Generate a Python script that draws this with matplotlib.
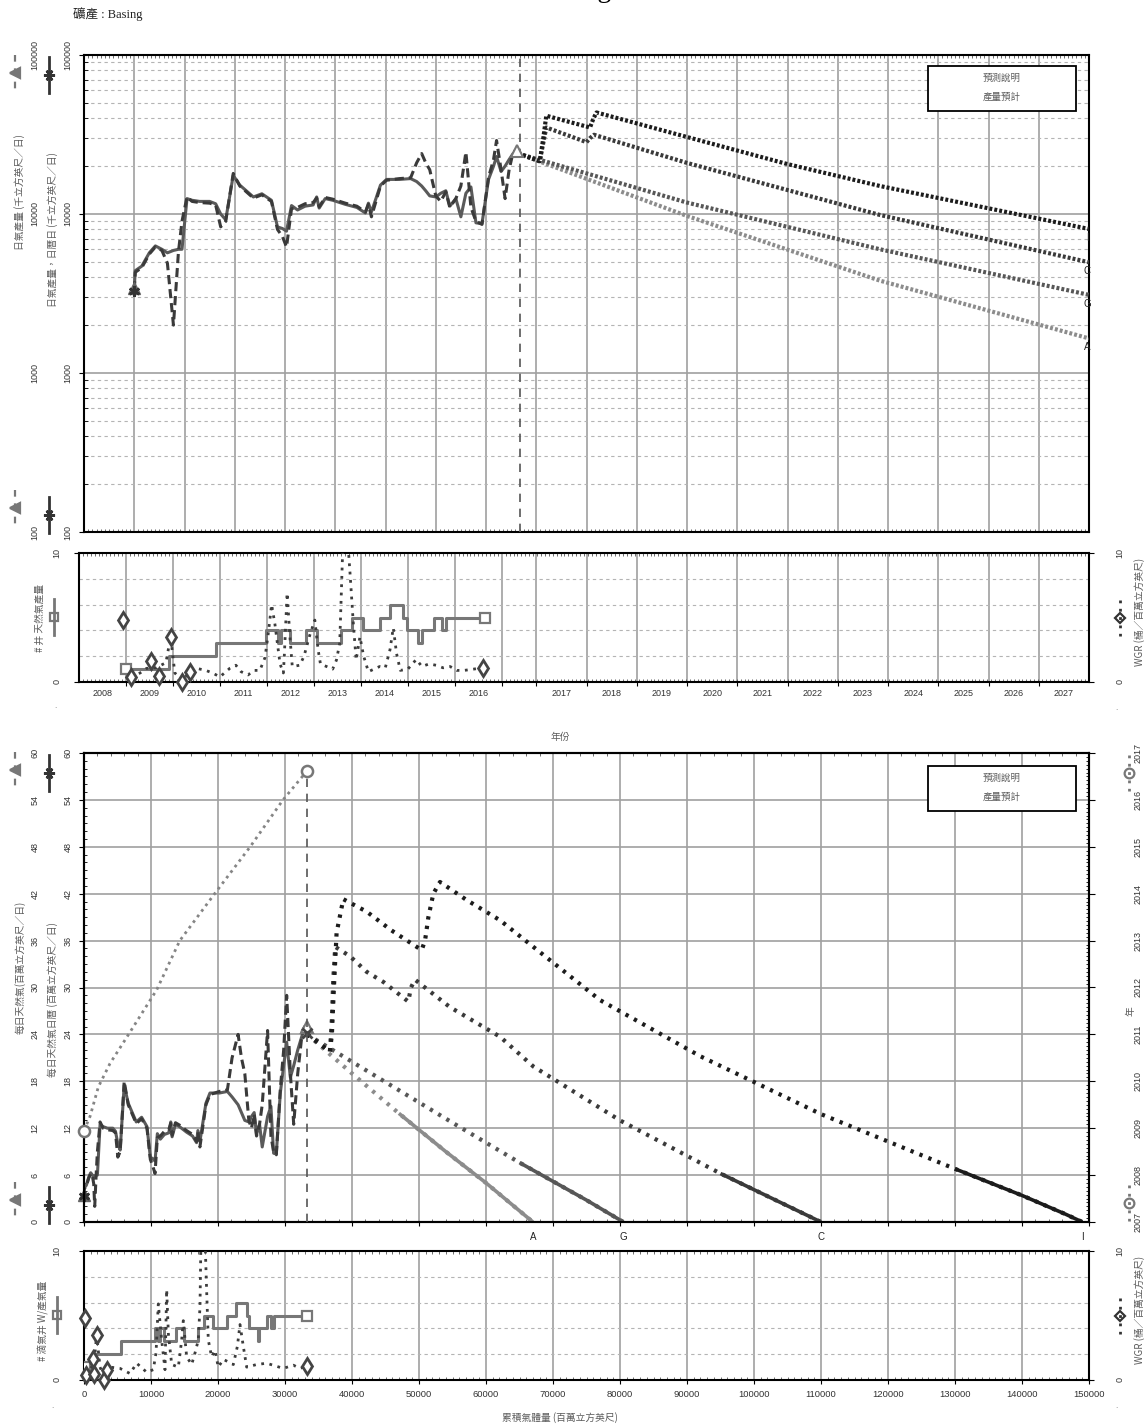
import matplotlib
matplotlib.use("Agg")
import matplotlib.pyplot as plt
import numpy as np
from matplotlib.lines import Line2D
from matplotlib.patches import Rectangle
from matplotlib.ticker import LogLocator, MultipleLocator, NullFormatter, FixedLocator

plt.rcParams["font.family"] = ["Liberation Sans", "Noto Sans CJK TC"]

W, H = 1145, 1426

# ---------------- production history ----------------
hist_year = [2009.00, 2009.02, 2009.15, 2009.30, 2009.42, 2009.55, 2009.66, 2009.78, 2009.88, 2009.95,
             2010.05, 2010.15, 2010.30, 2010.50, 2010.62, 2010.72, 2010.82, 2010.97, 2011.10, 2011.37,
             2011.54, 2011.73, 2011.85, 2011.95, 2012.03, 2012.13, 2012.25, 2012.40, 2012.56, 2012.63,
             2012.68, 2012.80, 2012.95, 2013.20, 2013.43, 2013.60, 2013.66, 2013.72, 2013.90, 2014.02,
             2014.28, 2014.50, 2014.62, 2014.72, 2014.80, 2014.88, 2015.00, 2015.10, 2015.20, 2015.28,
             2015.40, 2015.50, 2015.60, 2015.70, 2015.80, 2015.92, 2016.05, 2016.15, 2016.21, 2016.30,
             2016.38, 2016.46, 2016.54, 2016.62]
# Mcf/d
rate_daily = [3400, 4400, 4700, 5700, 6300, 6000, 5700, 5900, 6000, 6000,
              12500, 12200, 12000, 12000, 11600, 10000, 9200, 17500, 15200, 12800,
              13400, 12200, 8300, 8100, 7800, 11300, 10600, 11200, 11400, 12800,
              10900, 12500, 12200, 11500, 11000, 10150, 11700, 10300, 15200, 16500,
              16500, 16700, 16000, 15000, 14000, 13000, 12800, 13500, 14000, 11200,
              12500, 9600, 13500, 14800, 8800, 8700, 16500, 20000, 23000, 18500,
              20000, 22000, 24000, 25000]
rate_calendar = [3300, 4300, 4600, 5600, 6200, 5900, 4900, 2000, 5800, 9000,
                 12800, 12000, 11800, 11700, 11400, 8300, 9000, 18000, 15000, 12600,
                 13200, 12000, 8000, 7200, 6200, 10800, 11000, 11600, 11800, 12600,
                 11100, 12700, 12400, 11700, 11200, 10300, 11500, 9600, 15000, 16300,
                 16700, 16900, 21000, 24000, 21000, 19000, 13000, 12000, 13800, 11000,
                 12500, 15000, 24500, 11000, 9000, 8600, 17000, 22000, 29000, 19000,
                 12500, 19000, 24500, 25500]
# MMcf
hist_cum = [0, 80, 350, 700, 1000, 1250, 1450, 1600, 1800, 2000,
            2400, 2850, 3500, 4300, 4700, 5050, 5400, 6000, 6600, 7800,
            8600, 9400, 9900, 10250, 10600, 10950, 11400, 12000, 12650, 12950,
            13150, 13650, 14250, 15300, 16200, 16800, 17000, 17300, 18200, 18800,
            20200, 21400, 22100, 23000, 23500, 24000, 24600, 25000, 25400, 25750,
            26200, 26600, 27400, 27900, 28300, 28700, 29300, 29800, 30250, 30800,
            31300, 31900, 32600, 33300]

forecast_start_year = 2016.67
forecast_start_cum = 33300

# year reached vs cumulative (right axis of the lower chart)
yr_cum = [0, 900, 2140, 3880, 6120, 10850, 14300, 19500, 24800, 29700, 33300]
yr_value = [2008.95, 2009.25, 2009.88, 2010.38, 2010.88, 2011.95, 2013.0, 2014.0, 2015.0, 2016.0, 2016.62]

# ---------------- forecasts, rate vs time (Mcf/d) ----------------
I_year = [2016.64, 2017.07, 2017.14, 2017.20, 2018.07, 2018.14, 2018.20, 2020.0, 2022.0, 2023.84, 2028.0]
I_rate = [24000, 21500, 30000, 41500, 35000, 40000, 43500, 30500, 20600, 15000, 8050]
C_year = [2016.64, 2017.07, 2017.14, 2017.20, 2018.00, 2018.07, 2018.15, 2020.0, 2023.84, 2028.0]
C_rate = [24000, 21500, 28000, 35000, 28300, 30000, 31500, 20950, 9860, 4970]
G_year = [2016.64, 2020.0, 2023.84, 2028.0]
G_rate = [24000, 11800, 6000, 3100]
A_year = [2016.64, 2020.0, 2023.84, 2028.0]
A_rate = [24000, 9720, 3810, 1650]

# ---------------- forecasts, rate (MMcf/d) vs cumulative (MMcf) ----------------
Ib_cum = [33300, 36700, 37000, 37300, 37700, 38700, 42200, 45900, 49650, 50400, 50900, 51400, 52140, 53130,
          57100, 62100, 67060, 72040, 77000, 92000, 110000, 130000, 140000, 146500, 149000]
Ib_rate = [24.0, 21.8, 24.0, 30.0, 37.0, 41.3, 39.7, 37.3, 35.2, 34.8, 36.0, 39.0, 42.0, 43.5,
           41.2, 38.6, 35.2, 31.8, 28.4, 21.2, 13.8, 6.8, 3.4, 1.0, 0.0]
Cb_cum = [33300, 36700, 37000, 37200, 37500, 39700, 42200, 44700, 48400, 48800, 49400, 54600, 62100, 67060,
          80000, 95000, 110000]
Cb_rate = [24.0, 21.8, 26.0, 31.0, 35.2, 34.0, 32.0, 30.7, 28.2, 30.0, 31.0, 27.5, 23.7, 19.9,
           13.0, 6.2, 0.0]
Gb_cum = [33300, 40000, 45000, 55000, 65000, 75000, 80500]
Gb_rate = [24.0, 20.5, 17.9, 12.7, 7.6, 2.8, 0.0]
Ab_cum = [33300, 40000, 47000, 54000, 60000, 67000]
Ab_rate = [24.0, 19.0, 13.9, 9.0, 5.0, 0.0]

# ---------------- wells and WGR ----------------
wells_year = [2008.99, 2009.91, 2010.91, 2011.99, 2012.24, 2012.31, 2012.50, 2012.83, 2013.06, 2013.57, 2013.82,
              2014.05, 2014.40, 2014.63, 2014.90, 2014.99, 2015.22, 2015.31, 2015.55, 2015.73, 2015.81, 2016.64]
wells_cum = [150, 1540, 5470, 10600, 11100, 11300, 11940, 13730, 14930, 17060, 17910,
             19300, 21300, 22690, 24280, 24680, 26020, 26100, 27260, 27860, 28360, 33330]
wells_count = [1, 2, 3, 4, 3, 4, 3, 4, 3, 4, 5, 4, 5, 6, 5, 4, 3, 4, 5, 4, 5, 5]

wgr_year = [2008.94, 2009.11, 2009.53, 2009.70, 2009.95, 2010.20, 2010.36, 2016.60]
wgr_cum = [150, 300, 1290, 1540, 1890, 2990, 3480, 33330]
wgr_val = [4.8, 0.4, 1.6, 0.5, 3.5, 0.0, 0.8, 1.1]

wgr_line_year = [2009.11, 2009.30, 2009.44, 2009.64, 2009.85, 2009.95, 2010.04, 2010.20, 2010.36, 2010.50,
                 2010.70, 2010.84, 2011.00, 2011.21, 2011.34, 2011.45, 2011.60, 2011.72, 2011.85, 2011.96,
                 2012.03, 2012.10, 2012.17, 2012.28, 2012.35, 2012.37, 2012.43, 2012.49, 2012.54, 2012.70,
                 2012.79, 2012.91, 2013.02, 2013.09, 2013.14, 2013.27, 2013.40, 2013.48, 2013.55, 2013.62,
                 2013.72, 2013.77, 2013.84, 2013.90, 2013.98, 2014.06, 2014.16, 2014.28, 2014.40, 2014.52,
                 2014.62, 2014.69, 2014.76, 2014.84, 2015.00, 2015.18, 2015.30, 2015.45, 2015.60, 2015.75,
                 2015.90, 2016.04, 2016.20, 2016.40, 2016.60]
wgr_line_val = [0.4, 0.7, 1.06, 1.1, 1.5, 3.5, 0.7, 0.1, 0.8, 1.06,
                0.9, 0.7, 0.4, 1.06, 1.3, 0.8, 0.55, 0.9, 0.9, 1.9,
                3.8, 6.0, 4.5, 1.4, 0.7, 2.0, 6.9, 3.5, 1.2, 1.3,
                2.0, 3.6, 4.8, 2.5, 1.4, 1.2, 1.0, 1.7, 3.0, 11.0,
                11.0, 8.4, 4.5, 1.7, 3.5, 2.0, 0.8, 1.0, 1.2, 1.1,
                2.5, 4.2, 2.2, 0.9, 1.0, 1.75, 1.2, 1.4, 1.3, 1.1,
                1.2, 0.9, 0.9, 1.0, 1.1]

wgrb_cum = [300, 800, 1290, 1540, 1890, 2390, 2990, 3480, 3880, 5370,
            6870, 7860, 9360, 10340, 10750, 11090, 11590, 12090, 12340, 12590,
            13090, 14080, 14580, 14820, 15320, 16070, 16570, 17060, 17310, 17460,
            18060, 18300, 18550, 19050, 19550, 20040, 20800, 22290, 22890, 23280,
            23780, 24280, 25770, 27260, 28500, 29750, 31240, 32240, 33330]
wgrb_val = [0.4, 0.8, 1.1, 1.5, 3.5, 1.0, 0.2, 0.9, 1.0, 0.9,
            0.5, 1.3, 0.6, 0.8, 2.1, 5.9, 3.1, 0.8, 7.0, 3.6,
            1.2, 1.0, 3.1, 4.6, 1.8, 1.2, 2.1, 3.1, 5.7, 11.0,
            11.0, 7.0, 3.1, 1.8, 2.3, 1.0, 1.6, 1.2, 2.6, 4.3,
            2.6, 1.0, 1.2, 1.3, 1.1, 0.9, 1.15, 0.9, 1.1]

top_ticks = [100, 1000, 10000, 100000]
bot_ticks = list(range(0, 61, 6))
year_ticks = list(range(2007, 2018))
cum_ticks = list(range(0, 150001, 10000))
mid_years = list(range(2008, 2017))
late_years = list(range(2017, 2028))

# ---------------- styles ----------------
GRID = "#a0a0a0"
MINOR_GRID = "#b4b4b4"
LABEL = "#5c5c5c"
NUM = "#333333"
SOLID_C = "#5a5a5a"
DASH_C = "#3a3a3a"
STEP_C = "#777777"
WGR_C = "#3c3c3c"
fc_color = {"I": "#1c1c1c", "C": "#3a3a3a", "G": "#575757", "A": "#8c8c8c"}
# where the monthly forecast dots merge into a solid trace on the cumulative chart
fc_solid_from = {"I": 125000, "C": 92000, "G": 63000, "A": 45000}
CJK = ["Noto Sans CJK TC", "Liberation Sans"]

fig = plt.figure(figsize=(W / 100, H / 100), dpi=100)


def rect(left, top, right, bottom):
    return [left / W, 1 - bottom / H, (right - left) / W, (bottom - top) / H]


def ftext(px, py, s, **kw):
    fig.text(px / W, 1 - py / H, s, **kw)


def glyph(px, py, marker, ls, color, ms=7, half=18, lw=1.6, mfc="none"):
    x = px / W
    fig.add_artist(Line2D([x, x], [1 - (py - half) / H, 1 - (py + half) / H],
                          transform=fig.transFigure, ls=ls, color=color, lw=lw))
    fig.add_artist(Line2D([x], [1 - py / H], transform=fig.transFigure, ls="none",
                          marker=marker, ms=ms, mfc=mfc, mec=color, mew=1.6))


def frame(ax):
    for s in ax.spines.values():
        s.set_linewidth(1.5)
        s.set_color("black")


def legend_box(ax, x0, y0, x1, y1):
    ax.add_patch(Rectangle((x0, y0), x1 - x0, y1 - y0, transform=ax.transAxes,
                           fc="white", ec="black", lw=1.3, zorder=6))
    xc = (x0 + x1) / 2
    ax.text(xc, y0 + (y1 - y0) * 0.72, "預測說明", transform=ax.transAxes, ha="center", va="center",
            fontsize=6.8, color=LABEL, family=CJK, zorder=7)
    ax.text(xc, y0 + (y1 - y0) * 0.3, "產量預計", transform=ax.transAxes, ha="center", va="center",
            fontsize=6.8, color=LABEL, family=CJK, zorder=7)


# ======================= rate vs time =======================
ax_top = fig.add_axes(rect(84, 55, 1089, 532))
ax_top.set_yscale("log")
ax_top.set_xlim(2008, 2028)
ax_top.set_ylim(100, 100000)
ax_top.set_xticks(range(2009, 2028))
ax_top.xaxis.set_minor_locator(MultipleLocator(1 / 12))
ax_top.tick_params(axis="x", which="major", length=0, labelbottom=False)
ax_top.tick_params(axis="x", which="minor", direction="in", length=2.5, top=True, bottom=True, color="#555555")
ax_top.set_yticks(top_ticks, labels=[str(v) for v in top_ticks])
ax_top.yaxis.set_minor_locator(LogLocator(base=10, subs=np.arange(2, 10)))
ax_top.yaxis.set_minor_formatter(NullFormatter())
ax_top.tick_params(axis="y", which="major", length=3.5, pad=4.8, labelsize=6.5, labelrotation=90, labelcolor=NUM)
ax_top.tick_params(axis="y", which="minor", direction="in", length=3)
for lbl in ax_top.get_yticklabels():
    lbl.set_verticalalignment("center")
ax_top.grid(True, which="major", color=GRID, lw=1.2)
ax_top.grid(True, axis="y", which="minor", color=MINOR_GRID, lw=0.8, ls=(0, (3, 3)))
frame(ax_top)
for v in top_ticks:
    ax_top.text(-0.0443, v, str(v), transform=ax_top.get_yaxis_transform(), rotation=90,
                ha="right", va="center", fontsize=6.5, color=NUM, clip_on=False)

ax_top.plot(hist_year, rate_daily, color=SOLID_C, lw=2.2, zorder=4)
ax_top.plot(hist_year, rate_calendar, color=DASH_C, lw=2.2, ls=(0, (3, 1.6)), zorder=5)
ax_top.plot(hist_year[0], rate_daily[0], marker="^", ms=8, color="#666666", ls="none", zorder=6)
ax_top.plot(hist_year[0], rate_calendar[0], marker=(6, 2, 0), ms=8, mew=1.8, color="#333333", ls="none", zorder=6)
ax_top.plot(hist_year[-1], rate_daily[-1], marker="^", ms=9, mfc="white", mec="#777777", mew=1.5, ls="none", zorder=6)
ax_top.axvline(forecast_start_year, color="#555555", lw=1.2, ls=(0, (5, 4)), zorder=3)

for name, yrs, rts in [("A", A_year, A_rate), ("G", G_year, G_rate), ("C", C_year, C_rate), ("I", I_year, I_rate)]:
    ax_top.plot(yrs, rts, color=fc_color[name], lw=3, ls=(0, (0.7, 0.5)), zorder=5)
    ax_top.annotate(name, xy=(yrs[-1], rts[-1]), xytext=(-2, -9), textcoords="offset pixels",
                    ha="center", va="center", fontsize=7, color="#222222", annotation_clip=False)
legend_box(ax_top, 0.8398, 0.8826, 0.987, 0.977)

# ======================= wells / WGR vs time =======================
ax_mid = fig.add_axes(rect(79, 553, 1089, 682))
ax_mid.set_xlim(2008, 2029.5)
ax_mid.set_ylim(0, 10)


def top_to_mid(years):
    pts = np.column_stack([years, np.full(len(years), 1000.0)])
    px = ax_top.transData.transform(pts)[:, 0]
    back = ax_mid.transData.inverted().transform(np.column_stack([px, np.full(len(px), 5.0)]))
    return back[:, 0]


late_bounds = top_to_mid(np.array(late_years, dtype=float))
late_centres = top_to_mid(np.array(late_years, dtype=float) + 0.5)
ax_mid.set_xticks(list(range(2009, 2018)) + list(late_bounds))
ax_mid.tick_params(axis="x", which="major", length=3, labelbottom=False)
ax_mid.xaxis.set_minor_locator(MultipleLocator(1 / 12))
ax_mid.tick_params(axis="x", which="minor", direction="in", length=2.5, top=True, bottom=True, color="#555555")
ax_mid.set_yticks([0, 10], labels=["0", "10"])
ax_mid.yaxis.set_minor_locator(FixedLocator([2, 4, 6, 8]))
ax_mid.tick_params(axis="y", which="major", length=3.5, pad=9.1, labelsize=6.5, labelrotation=90,
                   labelcolor=NUM, right=True)
ax_mid.tick_params(axis="y", which="minor", length=0)
for lbl in ax_mid.get_yticklabels():
    lbl.set_verticalalignment("center")
ax_mid.grid(True, axis="x", which="major", color=GRID, lw=1.2)
ax_mid.grid(True, axis="y", which="minor", color=MINOR_GRID, lw=0.8, ls=(0, (3, 3)))
frame(ax_mid)
for v in [0, 10]:
    ax_mid.text(1 + 26.5 / 1010, v, str(v), transform=ax_mid.get_yaxis_transform(), rotation=90,
                ha="left", va="center", fontsize=6.5, color=NUM, clip_on=False)
for yr in mid_years:
    ax_mid.text(yr + 0.5, -0.058, str(yr), transform=ax_mid.get_xaxis_transform(),
                ha="center", va="top", fontsize=6.5, color=NUM)
for yr, xc in zip(late_years, late_centres):
    ax_mid.text(xc, -0.058, str(yr), transform=ax_mid.get_xaxis_transform(),
                ha="center", va="top", fontsize=6.5, color=NUM)

ax_mid.plot(wells_year, wells_count, drawstyle="steps-post", color=STEP_C, lw=2.2, zorder=4,
            marker="s", markevery=[0, len(wells_year) - 1], ms=6.5, mfc="white", mec=STEP_C, mew=1.6)
ax_mid.plot(wgr_line_year, wgr_line_val, color=WGR_C, lw=2, ls=(0, (1, 2)), zorder=5)
ax_mid.plot(wgr_year, wgr_val, ls="none", marker="d", ms=8, mfc="white", mec="#444444", mew=2,
            zorder=6, clip_on=False)

# ======================= rate vs cumulative =======================
ax_bot = fig.add_axes(rect(84, 753, 1089, 1222))
ax_bot.set_xlim(0, 150000)
ax_bot.set_ylim(0, 60)
ax_bot.set_xticks(cum_ticks)
ax_bot.tick_params(axis="x", which="major", length=3, labelbottom=False)
ax_bot.xaxis.set_minor_locator(MultipleLocator(2000))
ax_bot.tick_params(axis="x", which="minor", direction="in", length=2.5, top=True, bottom=True, color="#555555")
ax_bot.set_yticks(bot_ticks, labels=[str(v) for v in bot_ticks])
ax_bot.yaxis.set_minor_locator(MultipleLocator(1))
ax_bot.tick_params(axis="y", which="major", length=3.5, pad=4.8, labelsize=6.5, labelrotation=90, labelcolor=NUM)
ax_bot.tick_params(axis="y", which="minor", direction="in", length=2.5)
for lbl in ax_bot.get_yticklabels():
    lbl.set_verticalalignment("center")
ax_bot.grid(True, which="major", color=GRID, lw=1.2)
frame(ax_bot)
for v in bot_ticks:
    ax_bot.text(-0.0443, v, str(v), transform=ax_bot.get_yaxis_transform(), rotation=90,
                ha="right", va="center", fontsize=6.5, color=NUM, clip_on=False)

ax_bot.plot(hist_cum, np.array(rate_daily) / 1000, color=SOLID_C, lw=2.2, zorder=4)
ax_bot.plot(hist_cum, np.array(rate_calendar) / 1000, color=DASH_C, lw=2.2, ls=(0, (3, 1.6)), zorder=5)
ax_bot.plot(hist_cum[0], rate_daily[0] / 1000, marker="^", ms=8, color="#666666", ls="none", zorder=6, clip_on=False)
ax_bot.plot(hist_cum[0], rate_calendar[0] / 1000, marker=(6, 2, 0), ms=8, mew=1.8, color="#333333",
            ls="none", zorder=6, clip_on=False)
ax_bot.plot(hist_cum[-1], rate_daily[-1] / 1000, marker="^", ms=9, mfc="white", mec="#777777", mew=1.5,
            ls="none", zorder=6)
ax_bot.plot(hist_cum[-1], rate_calendar[-1] / 1000 - 1.3, marker="x", ms=7, mew=2, color="#444444",
            ls="none", zorder=6)

for name, cum, rts in [("A", Ab_cum, Ab_rate), ("G", Gb_cum, Gb_rate), ("C", Cb_cum, Cb_rate), ("I", Ib_cum, Ib_rate)]:
    cum_a = np.array(cum)
    rts_a = np.array(rts)
    ax_bot.plot(cum_a, rts_a, color=fc_color[name], lw=3, ls=(0, (0.8, 1.5)), zorder=5)
    tail = cum_a >= fc_solid_from[name]
    ax_bot.plot(cum_a[tail], rts_a[tail], color=fc_color[name], lw=2.6, zorder=5, solid_capstyle="butt")
    ax_bot.annotate(name, xy=(cum[-1], 0), xytext=(0, -15), textcoords="offset pixels",
                    ha="center", va="center", fontsize=7, color="#222222", annotation_clip=False)
legend_box(ax_bot, 0.8398, 0.876, 0.987, 0.972)

ax_yr = ax_bot.twinx()
ax_yr.set_ylim(2007, 2017)
ax_yr.set_yticks(year_ticks, labels=[str(v) for v in year_ticks])
ax_yr.yaxis.set_minor_locator(MultipleLocator(1 / 12))
ax_yr.tick_params(axis="y", which="major", length=4.3, pad=27.7, labelsize=6.5, labelrotation=90, labelcolor=NUM)
ax_yr.tick_params(axis="y", which="minor", direction="in", length=2.5)
for lbl in ax_yr.get_yticklabels():
    lbl.set_verticalalignment("center")
frame(ax_yr)
ax_yr.plot(yr_cum, yr_value, color="#858585", lw=2, ls=(0, (1, 1.5)), zorder=4)
ax_yr.plot([yr_cum[0], yr_cum[-1]], [yr_value[0], yr_value[-1]], ls="none", marker="o", ms=8,
           mfc="white", mec="#777777", mew=1.8, zorder=6, clip_on=False)
ax_yr.plot([forecast_start_cum, forecast_start_cum], [2007, yr_value[-1]], color="#555555", lw=1.2,
           ls=(0, (5, 4)), zorder=3)

# ======================= wells / WGR vs cumulative =======================
ax_bw = fig.add_axes(rect(84, 1251, 1089, 1380))
ax_bw.set_xlim(0, 150000)
ax_bw.set_ylim(0, 10)
ax_bw.set_xticks(cum_ticks, labels=[str(v) for v in cum_ticks])
ax_bw.tick_params(axis="x", which="major", length=2.9, pad=4, labelsize=6.8, labelcolor=NUM)
ax_bw.xaxis.set_minor_locator(MultipleLocator(1000))
ax_bw.tick_params(axis="x", which="minor", direction="in", length=2.5, top=True, bottom=True, color="#555555")
ax_bw.set_yticks([0, 10], labels=["0", "10"])
ax_bw.yaxis.set_minor_locator(FixedLocator([2, 4, 6, 8]))
ax_bw.tick_params(axis="y", which="major", length=3.5, pad=12.7, labelsize=6.5, labelrotation=90,
                  labelcolor=NUM, right=True)
ax_bw.tick_params(axis="y", which="minor", length=0)
for lbl in ax_bw.get_yticklabels():
    lbl.set_verticalalignment("center")
ax_bw.grid(True, axis="x", which="major", color=GRID, lw=1.2)
ax_bw.grid(True, axis="y", which="minor", color=MINOR_GRID, lw=0.8, ls=(0, (3, 3)))
frame(ax_bw)
for v in [0, 10]:
    ax_bw.text(1 + 26.5 / 1005, v, str(v), transform=ax_bw.get_yaxis_transform(), rotation=90,
               ha="left", va="center", fontsize=6.5, color=NUM, clip_on=False)

ax_bw.plot(wells_cum, wells_count, drawstyle="steps-post", color=STEP_C, lw=2.2, zorder=4,
           marker="s", markevery=[0, len(wells_cum) - 1], ms=6.5, mfc="white", mec=STEP_C, mew=1.6)
ax_bw.plot(wgrb_cum, wgrb_val, color=WGR_C, lw=2, ls=(0, (1, 2)), zorder=5)
ax_bw.plot(wgr_cum, wgr_val, ls="none", marker="d", ms=8, mfc="white", mec="#444444", mew=2,
           zorder=6, clip_on=False)

# ======================= side labels, glyphs, titles =======================
serif_cjk = ["Liberation Serif", "Noto Sans CJK TC"]
fig.text(0.5, 1 + 3 / H, "Basing", ha="center", va="baseline", fontsize=20, family=["Liberation Serif"])
ftext(73, 14, "礦產 : Basing", ha="left", va="center", fontsize=9, family=serif_cjk, color="#222222")

ftext(20, 192, "日氣產量 (千立方英尺／日)", rotation=90, ha="center", va="center", fontsize=7, color=LABEL, family=CJK)
ftext(53, 230, "日氣產量，日曆日 (千立方英尺／日)", rotation=90, ha="center", va="center", fontsize=7, color=LABEL, family=CJK)
ftext(40, 618, "# 井 天然氣產量", rotation=90, ha="center", va="center", fontsize=7, color=LABEL, family=CJK)
ftext(1140, 612, "WGR (桶／百萬立方英尺)", rotation=90, ha="center", va="center", fontsize=7, color=LABEL, family=CJK)
ftext(560, 737, "年份", ha="center", va="center", fontsize=7, color=LABEL, family=CJK)
ftext(20, 967, "每日天然氣(百萬立方英尺／日)", rotation=90, ha="center", va="center", fontsize=7, color=LABEL, family=CJK)
ftext(53, 1000, "每日天然氣日曆 (百萬立方英尺／日)", rotation=90, ha="center", va="center", fontsize=7, color=LABEL, family=CJK)
ftext(1131, 1011, "年", rotation=90, ha="center", va="center", fontsize=7, color=LABEL, family=CJK)
ftext(43, 1321, "# 滴氣井 W/產氣量", rotation=90, ha="center", va="center", fontsize=7, color=LABEL, family=CJK)
ftext(1140, 1310, "WGR (桶／百萬立方英尺)", rotation=90, ha="center", va="center", fontsize=7, color=LABEL, family=CJK)
ftext(560, 1418, "累積氣體量 (百萬立方英尺)", ha="center", va="center", fontsize=7, color=LABEL, family=CJK)
for px, py in [(55, 706), (1116, 708), (52, 1406), (1116, 1406)]:
    ftext(px, py, ".", ha="center", va="center", fontsize=6, color="#777777")

for py in [73, 508, 770, 1200]:
    glyph(15, py, "<", (0, (3, 3)), "#777777", ms=7, mfc="#777777")
for py in [75, 515, 773, 1205]:
    glyph(49, py, (6, 2, 90), "-", "#333333", ms=8, lw=2)
glyph(54, 617, "s", "-", STEP_C, ms=6, lw=2)
glyph(57, 1315, "s", "-", STEP_C, ms=6, lw=2)
glyph(1120, 618, "D", (0, (1, 2)), "#333333", ms=5.5, lw=2)
glyph(1120, 1316, "D", (0, (1, 2)), "#333333", ms=5.5, lw=2)
for py in [773, 1203]:
    glyph(1129, py, "o", (0, (1, 2)), "#777777", ms=7, lw=2)

fig.savefig("out.png", dpi=100)
